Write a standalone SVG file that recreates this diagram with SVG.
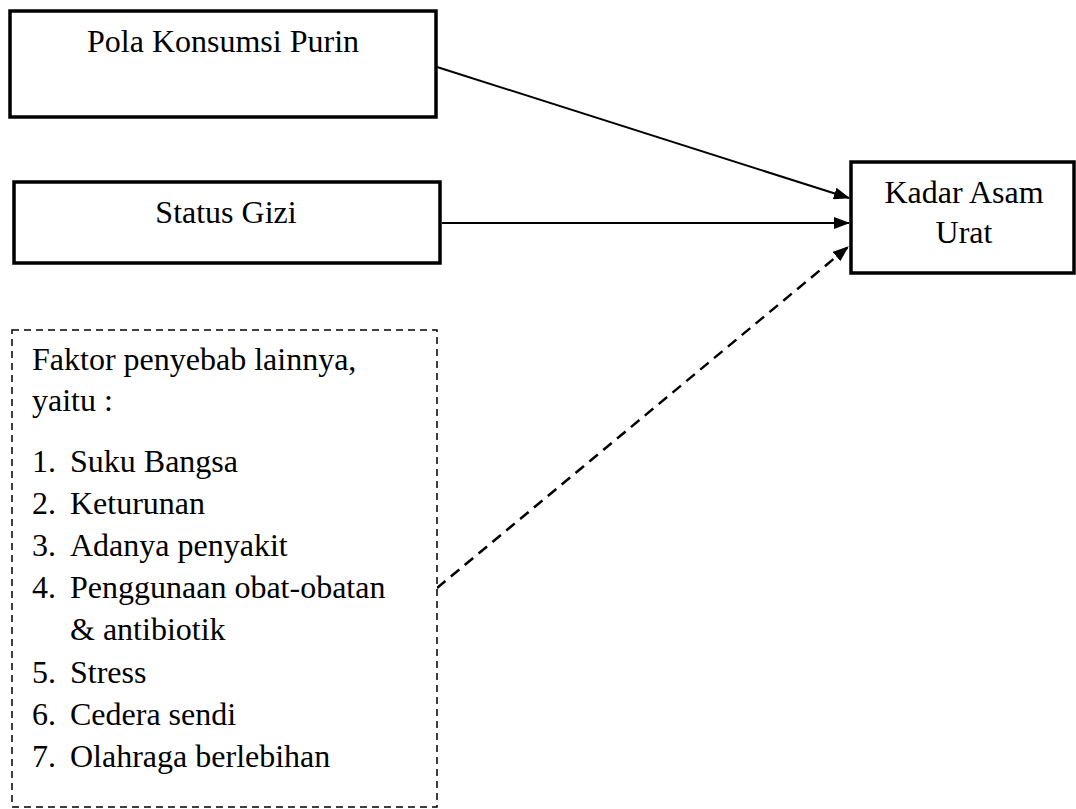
<svg xmlns="http://www.w3.org/2000/svg" width="1076" height="809" viewBox="0 0 1076 809">
<style>
text{font-family:"Liberation Serif","Times New Roman",serif;font-size:32px;fill:#000}
.box{fill:#fff;stroke:#000;stroke-width:3.5}
.dbox{fill:#fff;stroke:#000;stroke-width:1.5;stroke-dasharray:7,5}
.c{text-anchor:middle}
.ln{stroke:#000;stroke-width:2;fill:none}
.dl{stroke:#000;stroke-width:2.5;fill:none;stroke-dasharray:11,7}
</style>
<defs>
<marker id="ah" markerWidth="16" markerHeight="12" refX="15" refY="6" orient="auto" markerUnits="userSpaceOnUse">
<path d="M0,0 L16,6 L0,12 Z" fill="#000"/>
</marker>
</defs>
<rect width="1076" height="809" fill="#fff"/>
<g id="connectors">
<line class="ln" x1="437" y1="67" x2="849" y2="198" marker-end="url(#ah)"/>
<line class="ln" x1="442" y1="223" x2="849" y2="223" marker-end="url(#ah)"/>
<line class="dl" x1="437" y1="588" x2="848" y2="247" marker-end="url(#ah)"/>
</g>
<g id="pola">
<rect class="box" x="10" y="11" width="426" height="106"/>
<text class="c" x="223" y="52">Pola Konsumsi Purin</text>
</g>
<g id="status">
<rect class="box" x="14" y="182" width="426" height="81"/>
<text class="c" x="226" y="223">Status Gizi</text>
</g>
<g id="kadar">
<rect class="box" x="851" y="162" width="223" height="111"/>
<text class="c" x="964" y="203">Kadar Asam</text>
<text class="c" x="964" y="243">Urat</text>
</g>
<g id="faktor">
<rect class="dbox" x="12" y="330" width="425" height="477"/>
<text x="32" y="370">Faktor penyebab lainnya,</text>
<text x="32" y="411">yaitu :</text>
<text x="32" y="472">1.</text><text x="70" y="472">Suku Bangsa</text>
<text x="32" y="514">2.</text><text x="70" y="514">Keturunan</text>
<text x="32" y="556">3.</text><text x="70" y="556">Adanya penyakit</text>
<text x="32" y="598">4.</text><text x="70" y="598">Penggunaan obat-obatan</text>
<text x="70" y="640">&amp; antibiotik</text>
<text x="32" y="683">5.</text><text x="70" y="683">Stress</text>
<text x="32" y="725">6.</text><text x="70" y="725">Cedera sendi</text>
<text x="32" y="767">7.</text><text x="70" y="767">Olahraga berlebihan</text>
</g>
</svg>
